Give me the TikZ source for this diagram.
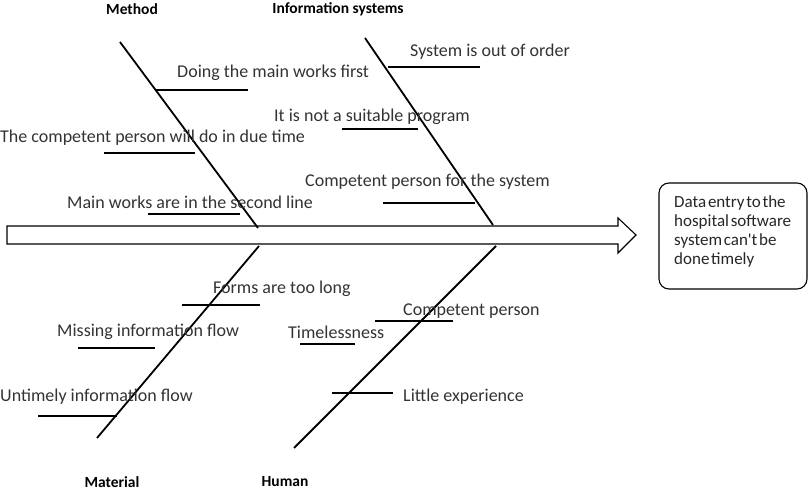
\documentclass[tikz,border=0pt]{standalone}
\usepackage{fontspec}
\setmainfont{Carlito}
\newfontfamily\boxfont[WordSpace=0.45]{Carlito}
\begin{document}
\begin{tikzpicture}[x=1pt,y=-1pt,
  cause/.style={anchor=west,inner sep=0pt,text=black!80,font=\fontsize{18}{21}\selectfont},
  cat/.style={inner sep=0pt,font=\bfseries\fontsize{15.5}{17}\selectfont},
  bone/.style={line width=1.8pt},
  twig/.style={line width=1.6pt},
  spine/.style={line width=1.1pt}]
\useasboundingbox (0,0) rectangle (811,494);
% spine arrow
\coordinate (s1) at (7,226);
\coordinate (s2) at (618,226);
\coordinate (s3) at (618,218);
\coordinate (tip) at (636,235);
\coordinate (s4) at (618,253);
\coordinate (s5) at (618,244);
\coordinate (s6) at (7,244);
\draw[spine] (s1) -- (s2) -- (s3) -- (tip) -- (s4) -- (s5) -- (s6) -- cycle;
% effect box
\node[draw,line width=1.1pt,rounded corners=10pt,minimum width=148pt,minimum height=106pt,
  inner sep=0pt] (effect) at (733,236) {};
\node[anchor=north west,inner sep=0pt,align=left,text=black!85,
  font=\boxfont\fontsize{17}{19}\selectfont] (efftext) at (674,195)
  {Data entry to the\\hospital software\\system can't be\\done timely};
% bones
\coordinate (m1) at (120,42);  \coordinate (m2) at (258,228);
\coordinate (i1) at (365,38);  \coordinate (i2) at (493,225);
\coordinate (a1) at (259,246); \coordinate (a2) at (97,438);
\coordinate (h1) at (496,246); \coordinate (h2) at (294,448);
\draw[bone] (m1) -- (m2);
\draw[bone] (i1) -- (i2);
\draw[bone] (a1) -- (a2);
\draw[bone] (h1) -- (h2);
% category labels
\node[cat] (method) at (132,9) {Method};
\node[cat] (infosys) at (338,9) {Information systems};
\node[cat] (material) at (112,482) {Material};
\node[cat] (human) at (285,482) {Human};
% Method causes
\draw[twig] (155,90) -- (248,90);
\node[cause] (c1) at (177,73) {Doing the main works first};
\draw[twig] (104,153) -- (195,153);
\node[cause] (c2) at (0,138) {The competent person will do in due time};
\draw[twig] (148,214) -- (240,214);
\node[cause] (c3) at (67,202) {Main works are in the second line};
% Information systems causes
\draw[twig] (388,67) -- (480,67);
\node[cause] (c4) at (410,52) {System is out of order};
\draw[twig] (342,129) -- (418,129);
\node[cause] (c5) at (274,117) {It is not a suitable program};
\draw[twig] (383,203) -- (475,203);
\node[cause] (c6) at (305,182) {Competent person for the system};
% Material causes
\draw[twig] (182,305) -- (260,305);
\node[cause] (c7) at (213,289) {Forms are too long};
\draw[twig] (78,348) -- (155,348);
\node[cause] (c8) at (57,332) {Missing information flow};
\draw[twig] (38,416) -- (117,416);
\node[cause] (c9) at (0,397) {Untimely information flow};
% Human causes
\draw[twig] (375,321) -- (453,321);
\node[cause] (c10) at (403,311) {Competent person};
\draw[twig] (300,344) -- (355,344);
\node[cause] (c11) at (288,332) {Timelessness};
\draw[twig] (332,393) -- (393,393);
\node[cause] (c12) at (403,397) {Little experience};
\end{tikzpicture}
\end{document}
